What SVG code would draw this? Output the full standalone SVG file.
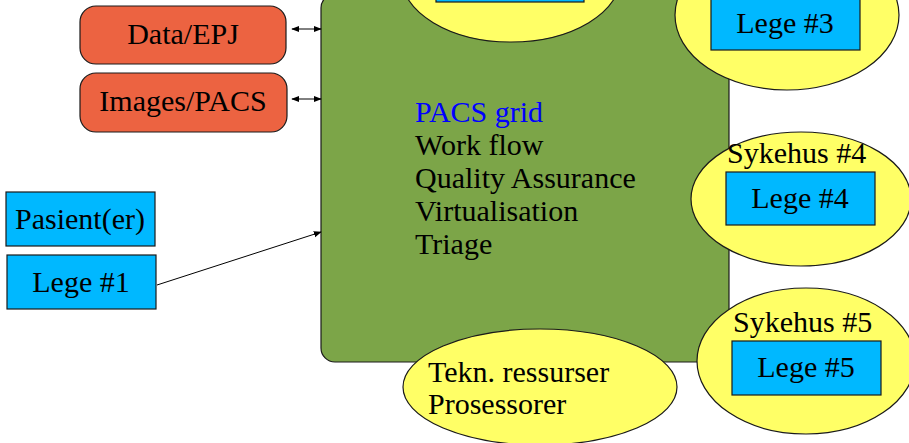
<svg xmlns="http://www.w3.org/2000/svg" width="909" height="443" viewBox="0 0 909 443">
<style>
text{font-family:'Liberation Serif','DejaVu Serif',serif;font-size:30px;fill:#000}
.box{fill:#00B8FF;stroke:#1a1a1a;stroke-width:1.2}
.ell{fill:#FFFF66;stroke:#1a1a1a;stroke-width:1.2}
.org{fill:#EC6341;stroke:#1a1a1a;stroke-width:1.2}
.con{stroke:#000;stroke-width:1;fill:none}
.mid{text-anchor:middle}
</style>
<defs>
<marker id="ah" viewBox="0 0 10 10" refX="9" refY="5" markerWidth="8" markerHeight="8" orient="auto-start-reverse" markerUnits="userSpaceOnUse">
<path d="M0,1 L10,5 L0,9 Z" fill="#000"/>
</marker>
</defs>
<rect width="909" height="443" fill="#fff"/>
<g id="grid">
<rect x="321" y="-6" width="408" height="368" rx="14" ry="14" fill="#7CA548" stroke="#1a1a1a" stroke-width="1.2"/>
<text x="415" y="122" style="fill:#0000FF">PACS grid</text>
<text x="415" y="155">Work flow</text>
<text x="415" y="188">Quality Assurance</text>
<text x="415" y="221">Virtualisation</text>
<text x="415" y="254">Triage</text>
</g>
<g id="sykehus2">
<ellipse class="ell" cx="511" cy="-24" rx="110" ry="66"/>
<rect class="box" x="436" y="-40" width="148" height="42"/>
</g>
<g id="sykehus3">
<ellipse class="ell" cx="787" cy="15" rx="112" ry="75"/>
<rect class="box" x="711" y="-10" width="149" height="60"/>
<text class="mid" x="785" y="33">Lege #3</text>
</g>
<g id="sykehus4">
<ellipse class="ell" cx="801" cy="199" rx="110" ry="67"/>
<text x="727" y="163">Sykehus #4</text>
<rect class="box" x="726" y="172" width="149" height="53"/>
<text class="mid" x="800" y="208">Lege #4</text>
</g>
<g id="sykehus5">
<ellipse class="ell" cx="806" cy="361" rx="109" ry="73"/>
<text x="733" y="332">Sykehus #5</text>
<rect class="box" x="732" y="341" width="149" height="54"/>
<text class="mid" x="806" y="377">Lege #5</text>
</g>
<g id="tekn">
<ellipse class="ell" cx="540" cy="387" rx="137" ry="58"/>
<text x="428" y="382">Tekn. ressurser</text>
<text x="428" y="414">Prosessorer</text>
</g>
<g id="data-epj">
<rect class="org" x="80" y="6" width="206" height="58" rx="16" ry="16"/>
<text class="mid" x="183" y="44">Data/EPJ</text>
</g>
<g id="images-pacs">
<rect class="org" x="80" y="73" width="207" height="59" rx="16" ry="16"/>
<text class="mid" x="183" y="111">Images/PACS</text>
</g>
<g id="pasient">
<rect class="box" x="6" y="192" width="149" height="54"/>
<text class="mid" x="80" y="229">Pasient(er)</text>
</g>
<g id="lege1">
<rect class="box" x="7" y="255" width="149" height="54"/>
<text class="mid" x="81" y="292">Lege #1</text>
</g>
<g id="connectors">
<line class="con" x1="292" y1="29" x2="321" y2="29" marker-start="url(#ah)" marker-end="url(#ah)"/>
<line class="con" x1="292" y1="99" x2="321" y2="99" marker-start="url(#ah)" marker-end="url(#ah)"/>
<line class="con" x1="157" y1="285" x2="321" y2="232" marker-end="url(#ah)"/>
</g>
</svg>
